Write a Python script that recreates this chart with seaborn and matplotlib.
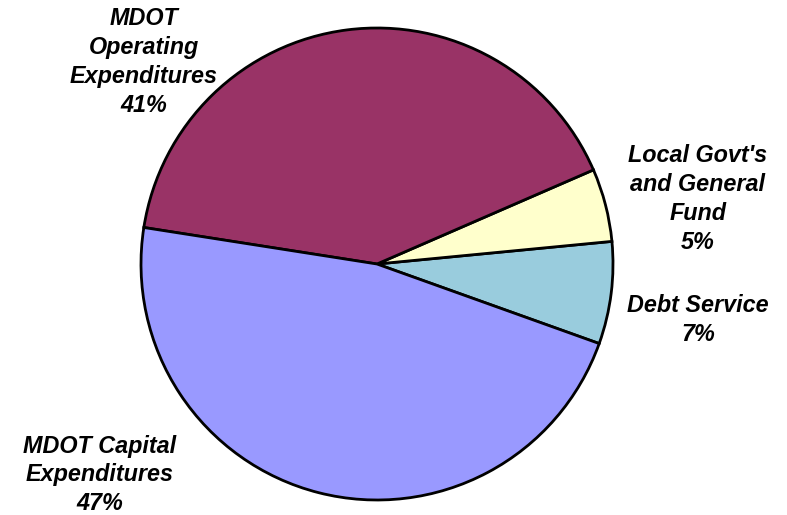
import matplotlib
matplotlib.use("Agg")
import matplotlib.pyplot as plt
import seaborn as sns

sns.set_theme(style="white")
plt.rcParams['font.family'] = ['Liberation Sans', 'DejaVu Sans']

categories = ["Debt Service", "Local Govt's\nand General\nFund", "MDOT\nOperating\nExpenditures", "MDOT Capital\nExpenditures"]
values = [7, 5, 41, 47]
colors = ["#99CCDD", "#FFFFCC", "#993366", "#9999FF"]

W, H = 787, 515
fig = plt.figure(figsize=(W / 100, H / 100), dpi=100)
ax = fig.add_axes([0, 0, 1, 1])

cx, cy, r = 377, H - 264, 236
ax.pie(values, colors=colors, startangle=-19.7, counterclock=True,
       center=(cx, cy), radius=r, frame=True,
       wedgeprops=dict(edgecolor="black", linewidth=2))
ax.set_xlim(0, W)
ax.set_ylim(0, H)
ax.set_aspect("equal")
ax.axis("off")

label_pos = [(698, 320), (698, 199), (144, 62), (100, 475)]
for cat, v, (x, y) in zip(categories, values, label_pos):
    ax.text(x, H - y, f"{cat}\n{v}%", ha="center", va="center",
            fontsize=16.8, fontweight="bold", fontstyle="italic",
            linespacing=1.33, color="black")

fig.savefig("out.png", dpi=100)
